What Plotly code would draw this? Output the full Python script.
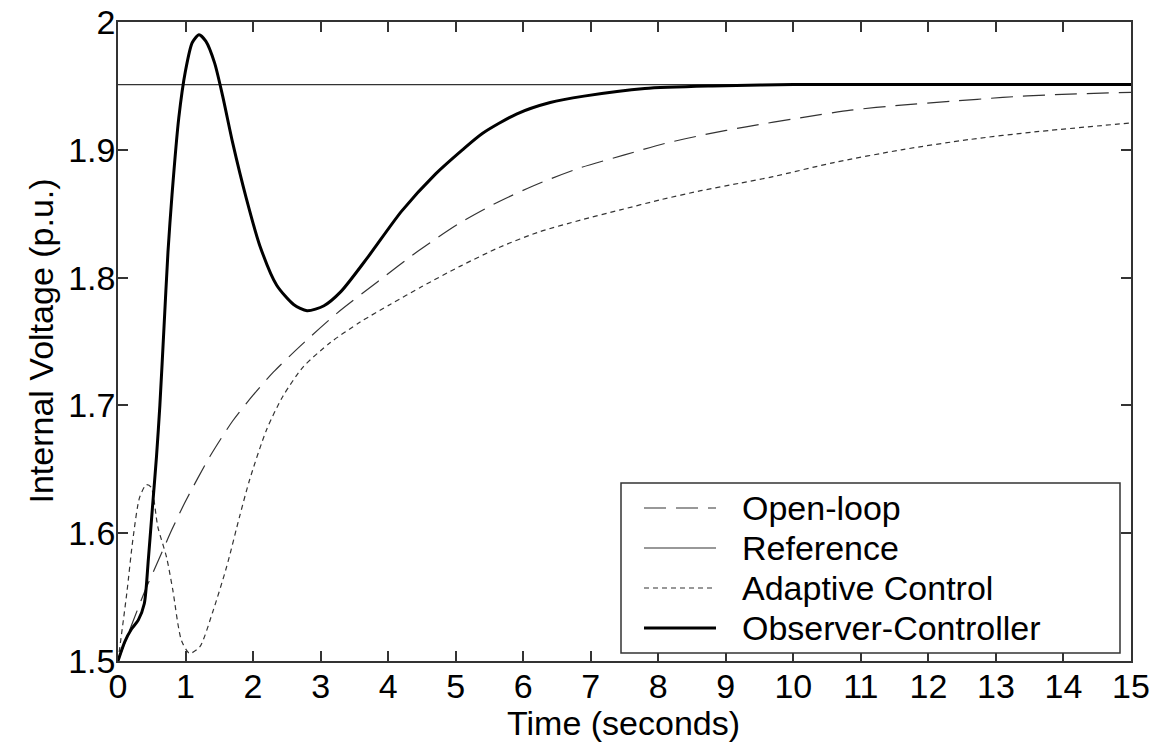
import plotly.graph_objects as go

# ---- data ----
t_obs = [0, 0.1, 0.2, 0.3, 0.39, 0.45, 0.51, 0.57, 0.62, 0.68, 0.74, 0.8, 0.9, 1.0, 1.1, 1.2, 1.3,
         1.43, 1.55, 1.7, 1.9, 2.1, 2.35, 2.6, 2.8, 3.05, 3.3, 3.7, 4.2, 4.7, 5.1, 5.4, 5.9, 6.4,
         6.9, 7.8, 8.8, 10, 15]
v_obs = [1.5, 1.515, 1.525, 1.532, 1.545, 1.58, 1.62, 1.66, 1.70, 1.76, 1.82, 1.865, 1.925, 1.962,
         1.984, 1.990, 1.985, 1.968, 1.942, 1.905, 1.862, 1.825, 1.794, 1.779, 1.774, 1.778, 1.789,
         1.816, 1.852, 1.881, 1.900, 1.913, 1.928, 1.937, 1.942, 1.948, 1.950, 1.951, 1.951]

t_open = [0, 0.2, 0.4, 0.6, 0.8, 1.0, 1.36, 1.7, 2.0, 2.3, 2.69, 3.24, 3.85, 4.45, 5.07, 5.66, 6.25,
          6.85, 7.5, 8.1, 8.7, 9.3, 10.1, 10.85, 11.6, 12.35, 13.1, 13.8, 15]
v_open = [1.5, 1.528, 1.555, 1.579, 1.603, 1.625, 1.660, 1.688, 1.708, 1.726, 1.746, 1.772, 1.797,
          1.821, 1.843, 1.860, 1.874, 1.886, 1.896, 1.905, 1.912, 1.918, 1.925, 1.931, 1.935, 1.938,
          1.941, 1.943, 1.945]

t_ref = [0, 15]
v_ref = [1.951, 1.951]

t_ada = [0, 0.13, 0.22, 0.32, 0.42, 0.49, 0.59, 0.72, 0.81, 0.94, 1.06, 1.21, 1.40, 1.61, 1.80, 1.95,
         2.20, 2.44, 2.74, 3.14, 3.58, 4.03, 4.5, 5.07, 5.66, 6.25, 6.85, 7.44, 8.04, 8.63, 9.22, 9.7,
         10.6, 11.6, 12.6, 13.57, 15]
v_ada = [1.5, 1.553, 1.595, 1.628, 1.638, 1.636, 1.605, 1.581, 1.556, 1.516, 1.506, 1.511, 1.538,
         1.574, 1.613, 1.642, 1.681, 1.707, 1.730, 1.749, 1.765, 1.779, 1.793, 1.809, 1.824, 1.836,
         1.845, 1.853, 1.861, 1.868, 1.874, 1.879, 1.890, 1.900, 1.908, 1.914, 1.921]

names = ["Open-loop", "Reference", "Adaptive Control", "Observer-Controller"]
x_ticks = list(range(0, 16))
y_ticks = [1.5, 1.6, 1.7, 1.8, 1.9, 2.0]
y_tick_text = ["1.5", "1.6", "1.7", "1.8", "1.9", "2"]

# ---- styles ----
FONT = "Liberation Sans, Arial, sans-serif"
FS = 34
styles = [
    dict(color="#333333", width=1.2, dash="22px,10px"),
    dict(color="#333333", width=1.2, dash="solid"),
    dict(color="#333333", width=1.2, dash="5px,4px"),
    dict(color="#000000", width=3, dash="solid"),
]

fig = go.Figure()
series = [(t_open, v_open), (t_ref, v_ref), (t_ada, v_ada), (t_obs, v_obs)]
for (tx, vy), nm, st in zip(series, names, styles):
    fig.add_trace(go.Scatter(x=tx, y=vy, mode="lines", name=nm,
                             line=dict(shape="spline", smoothing=0.7, **st), showlegend=False))

# page body margin is removed (post_script below), so figure px == screen px
FIG_W, FIG_H = 1159, 743
L, R, T, B = 118, 1131, 22, 661
W, H = R - L, B - T
px = lambda x: (x - L) / W
py = lambda y: (B - y) / H

# ---- manual legend (box, samples, labels) in paper coordinates ----
fig.add_shape(type="rect", xref="paper", yref="paper", x0=px(621), x1=px(1120), y0=py(653), y1=py(483),
              line=dict(color="#333333", width=1.5), fillcolor="white", layer="above")
rows = [508, 548, 588, 628]
for nm, st, ry in zip(names, styles, rows):
    fig.add_shape(type="line", xref="paper", yref="paper", x0=px(644), x1=px(716), y0=py(ry), y1=py(ry),
                  line=dict(color=st["color"], width=st["width"], dash=st["dash"]), layer="above")
    fig.add_annotation(xref="paper", yref="paper", x=px(740), y=py(ry), text=nm, showarrow=False,
                       xanchor="left", yanchor="middle", font=dict(family=FONT, size=FS, color="black"))

# axis titles
fig.add_annotation(xref="paper", yref="paper", x=px(623), y=py(723), text="Time (seconds)", showarrow=False,
                   xanchor="center", yanchor="middle", font=dict(family=FONT, size=FS, color="black"))
fig.add_annotation(xref="paper", yref="paper", x=px(40), y=0.5, text="Internal Voltage (p.u.)", showarrow=False,
                   textangle=-90, xanchor="center", yanchor="middle",
                   font=dict(family=FONT, size=FS, color="black"))

axis_common = dict(showline=True, linecolor="#333333", linewidth=1.5, mirror="ticks", ticks="inside",
                   ticklen=10, tickwidth=1.5, tickcolor="#333333", showgrid=False, zeroline=False,
                   automargin=False, ticklabeloverflow="allow",
                   tickfont=dict(family=FONT, size=FS, color="black"))
fig.update_xaxes(range=[0, 15], tickvals=x_ticks, ticktext=[str(v) for v in x_ticks],
                 ticklabelstandoff=-6, **axis_common)
fig.update_yaxes(range=[1.5, 2.0], tickvals=y_ticks, ticktext=y_tick_text,
                 ticklabelstandoff=-6, **axis_common)

fig.update_layout(width=FIG_W, height=FIG_H, autosize=False,
                  margin=dict(l=L, r=FIG_W - R, t=T, b=FIG_H - B, pad=0, autoexpand=False),
                  paper_bgcolor="white", plot_bgcolor="white", showlegend=False)

fig.write_html("out.html", config={"displayModeBar": False},
               post_script="document.body.style.margin='0px';document.body.style.overflow='hidden';")
